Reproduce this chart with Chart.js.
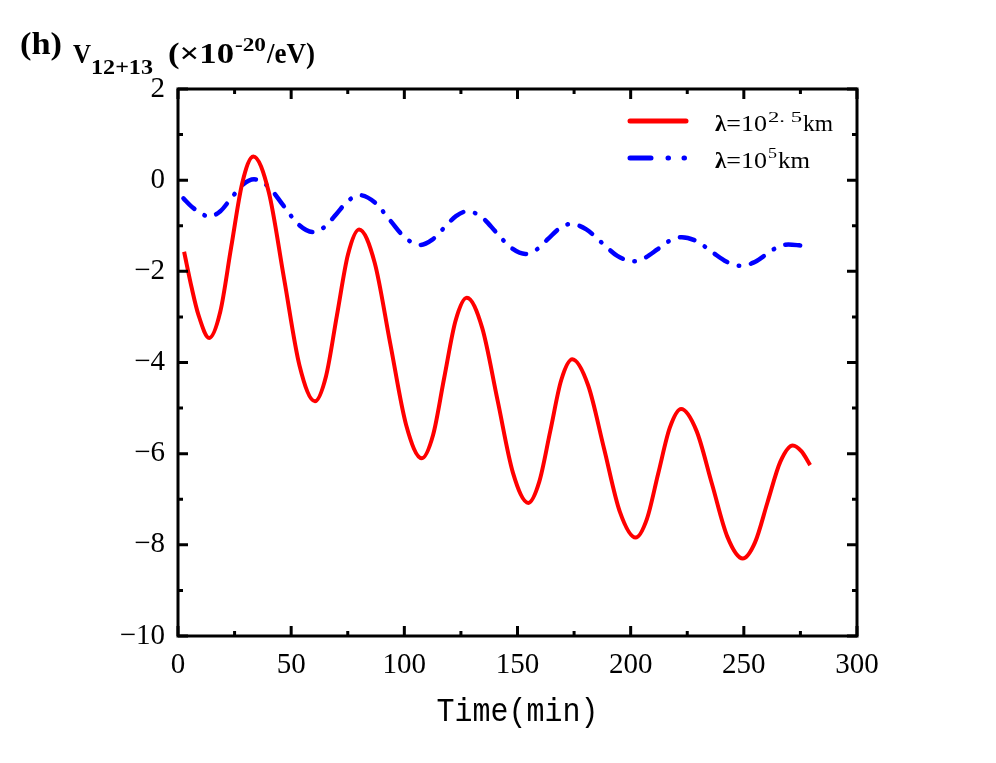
<!DOCTYPE html>
<html>
<head>
<meta charset="utf-8">
<script src="https://cdn.jsdelivr.net/npm/chart.js@4.4.1/dist/chart.umd.min.js"></script>
<style>
  html, body { margin: 0; padding: 0; background: #fff; }
  #wrap { width: 996px; height: 763px; position: relative; }
</style>
</head>
<body>
<div id="wrap"><canvas id="chart"></canvas></div>
<script>
// values: time (min) vs V12+13 (x1e-20 eV)
const timeRed = [2.7, 6, 9, 13.8, 18.7, 23.5, 28.4, 33.3, 40.1, 46.9, 53.7, 60.5, 65.4, 70.2, 75.1, 80,
  86.9, 93.8, 100.8, 107.7, 112.7, 117.6, 122.6, 127.6, 134.4, 141.2, 148, 154.8, 159.6, 164.5, 169.3, 174.2,
  181.2, 188.2, 195.2, 202.2, 207.2, 212.2, 217.3, 222.3, 229.1, 235.9, 242.7, 249.5, 255, 260.5, 266.1, 271.6,
  275.5, 279.3];
const valRed = [-1.57, -2.35, -2.95, -3.46, -2.88, -1.47, -0.06, 0.52, -0.26, -2.17, -4.07, -4.85, -4.3, -2.97, -1.63, -1.08,
  -1.81, -3.59, -5.37, -6.1, -5.59, -4.34, -3.09, -2.58, -3.24, -4.83, -6.42, -7.08, -6.62, -5.5, -4.39, -3.93,
  -4.5, -5.88, -7.27, -7.84, -7.43, -6.43, -5.43, -5.02, -5.5, -6.66, -7.82, -8.3, -7.94, -7.06, -6.18, -5.82,
  -5.95, -6.25];

const timeBlue = [2.4, 6, 10, 13.7, 18.7, 23.6, 28.6, 33.6, 40.1, 46.6, 53.2, 59.7, 64.9, 70, 75.2, 80.4,
  87, 93.7, 100.3, 107, 112.2, 117.5, 122.8, 128, 134.4, 140.7, 147.1, 153.5, 158.5, 163.5, 168.5, 173.5,
  180.4, 187.2, 194.1, 201, 206.4, 211.8, 217.2, 222.6, 229.2, 235.8, 242.4, 249, 254.2, 259.3, 264.5, 269.7,
  274.5, 279];
const valBlue = [-0.4, -0.58, -0.72, -0.8, -0.68, -0.39, -0.1, 0.02, -0.15, -0.56, -0.97, -1.14, -1.02, -0.74, -0.45, -0.33,
  -0.49, -0.88, -1.26, -1.42, -1.31, -1.05, -0.79, -0.68, -0.82, -1.15, -1.48, -1.62, -1.52, -1.29, -1.06, -0.96,
  -1.08, -1.37, -1.66, -1.78, -1.7, -1.52, -1.33, -1.25, -1.34, -1.57, -1.79, -1.88, -1.81, -1.65, -1.48, -1.41,
  -1.43, -1.46];

const xTicks = [0, 50, 100, 150, 200, 250, 300];
const xMinor = [25, 75, 125, 175, 225, 275];
const yTicks = [2, 0, -2, -4, -6, -8, -10];
const yMinor = [1, -1, -3, -5, -7, -9];
const seriesExp = ['2. 5', '5'];
const xTitle = 'Time(min)';

const pts = (t, v) => t.map((x, i) => ({ x: x, y: v[i] }));

// draw a string stretched to a given width
function fitText(ctx, str, x, y, font, w) {
  ctx.font = font;
  const m = ctx.measureText(str).width;
  ctx.save();
  ctx.translate(x, y);
  ctx.scale(w / m, 1);
  ctx.fillText(str, 0, 0);
  ctx.restore();
}

// frame with inward ticks on all four sides
const framePlugin = {
  id: 'frame',
  afterDatasetsDraw(chart) {
    const { ctx, chartArea: a, scales: { x, y } } = chart;
    ctx.save();
    ctx.strokeStyle = '#000';
    ctx.lineWidth = 3;
    ctx.lineCap = 'butt';
    ctx.strokeRect(a.left, a.top, a.right - a.left, a.bottom - a.top);
    const xt = (vals, len) => vals.forEach(v => {
      const px = x.getPixelForValue(v);
      ctx.beginPath();
      ctx.moveTo(px, a.bottom); ctx.lineTo(px, a.bottom - len);
      ctx.moveTo(px, a.top); ctx.lineTo(px, a.top + len);
      ctx.stroke();
    });
    const yt = (vals, len) => vals.forEach(v => {
      const py = y.getPixelForValue(v);
      ctx.beginPath();
      ctx.moveTo(a.left, py); ctx.lineTo(a.left + len, py);
      ctx.moveTo(a.right, py); ctx.lineTo(a.right - len, py);
      ctx.stroke();
    });
    xt(xTicks, 10); xt(xMinor, 5);
    yt(yTicks, 10); yt(yMinor, 5);
    ctx.restore();
  },
  afterDraw(chart) {
    const ctx = chart.ctx;
    const ds = chart.data.datasets;
    const a = chart.chartArea;
    ctx.save();
    ctx.fillStyle = '#000';
    ctx.textBaseline = 'alphabetic';

    // panel label and axis name
    fitText(ctx, '(h)', 20, 54, 'bold 32px "Liberation Serif"', 42);
    fitText(ctx, 'V', 73, 63, 'bold 28px "Liberation Serif"', 18);
    fitText(ctx, '12+13', 91, 74, 'bold 20px "Liberation Serif"', 62);
    fitText(ctx, '(\u00d710', 168, 63, 'bold 30px "Liberation Serif"', 66);
    fitText(ctx, '-20', 235, 51, 'bold 18px "Liberation Serif"', 31);
    fitText(ctx, '/eV)', 267, 63, 'bold 30px "Liberation Serif"', 48);

    // x axis title
    const tw = 162;
    fitText(ctx, xTitle, (a.left + a.right) / 2 - tw / 2, 721, '34px "Liberation Mono"', tw);

    // legend
    const rows = [121, 158];
    rows.forEach((ry, i) => {
      const d = ds[i];
      ctx.strokeStyle = d.borderColor;
      ctx.lineWidth = 5;
      ctx.lineCap = 'round';
      ctx.beginPath();
      if (i === 0) {
        ctx.moveTo(630, ry); ctx.lineTo(686, ry);
      } else {
        ctx.moveTo(630, ry); ctx.lineTo(651, ry);
        ctx.moveTo(668, ry); ctx.lineTo(668.5, ry);
        ctx.moveTo(684, ry); ctx.lineTo(684.5, ry);
      }
      ctx.stroke();
      const base = ry + 10;
      ctx.font = 'bold 23px "Liberation Serif"';
      ctx.fillText('\u03bb', 715, base);
      const lw = ctx.measureText('\u03bb').width;
      fitText(ctx, '=10', 715 + lw, base, '23px "Liberation Serif"', 767 - 715 - lw);
      if (i === 0) {
        fitText(ctx, seriesExp[i], 768, base - 9, '15px "Liberation Serif"', 34);
        fitText(ctx, 'km', 803, base, '23px "Liberation Serif"', 30);
      } else {
        fitText(ctx, seriesExp[i], 768, base - 10, '15px "Liberation Serif"', 9);
        fitText(ctx, 'km', 778, base, '23px "Liberation Serif"', 32);
      }
    });
    ctx.restore();
  }
};

new Chart(document.getElementById('chart'), {
  type: 'line',
  data: {
    datasets: [{
      label: 'lambda=10^2.5 km',
      data: pts(timeRed, valRed),
      borderColor: '#ff0000',
      borderWidth: 4,
      pointRadius: 0,
      fill: false,
      cubicInterpolationMode: 'monotone'
    }, {
      label: 'lambda=10^5 km',
      data: pts(timeBlue, valBlue),
      borderColor: '#0000ff',
      borderWidth: 4.5,
      borderDash: [15, 12, 0.5, 12],
      borderCapStyle: 'round',
      pointRadius: 0,
      fill: false,
      cubicInterpolationMode: 'monotone'
    }]
  },
  options: {
    responsive: true,
    maintainAspectRatio: false,
    animation: false,
    layout: { padding: { left: 0, right: 139, top: 89, bottom: 0 } },
    plugins: { legend: { display: false }, tooltip: { enabled: false } },
    scales: {
      x: {
        type: 'linear',
        min: 0,
        max: 300,
        afterBuildTicks: s => { s.ticks = xTicks.map(v => ({ value: v })); },
        afterFit: s => { s.height = 127; },
        grid: { display: false, drawTicks: false },
        border: { display: false },
        ticks: {
          padding: 12,
          color: '#000',
          maxRotation: 0,
          font: { family: 'Liberation Serif', size: 29 }
        },
        title: { display: false }
      },
      y: {
        type: 'linear',
        min: -10,
        max: 2,
        afterBuildTicks: s => { s.ticks = yTicks.map(v => ({ value: v })); },
        afterFit: s => { s.width = 178; },
        grid: { display: false, drawTicks: false },
        border: { display: false },
        ticks: {
          padding: 13,
          color: '#000',
          font: { family: 'Liberation Serif', size: 29 },
          callback: v => String(v).replace('-', '\u2212')
        }
      }
    }
  },
  plugins: [framePlugin]
});
</script>
</body>
</html>
